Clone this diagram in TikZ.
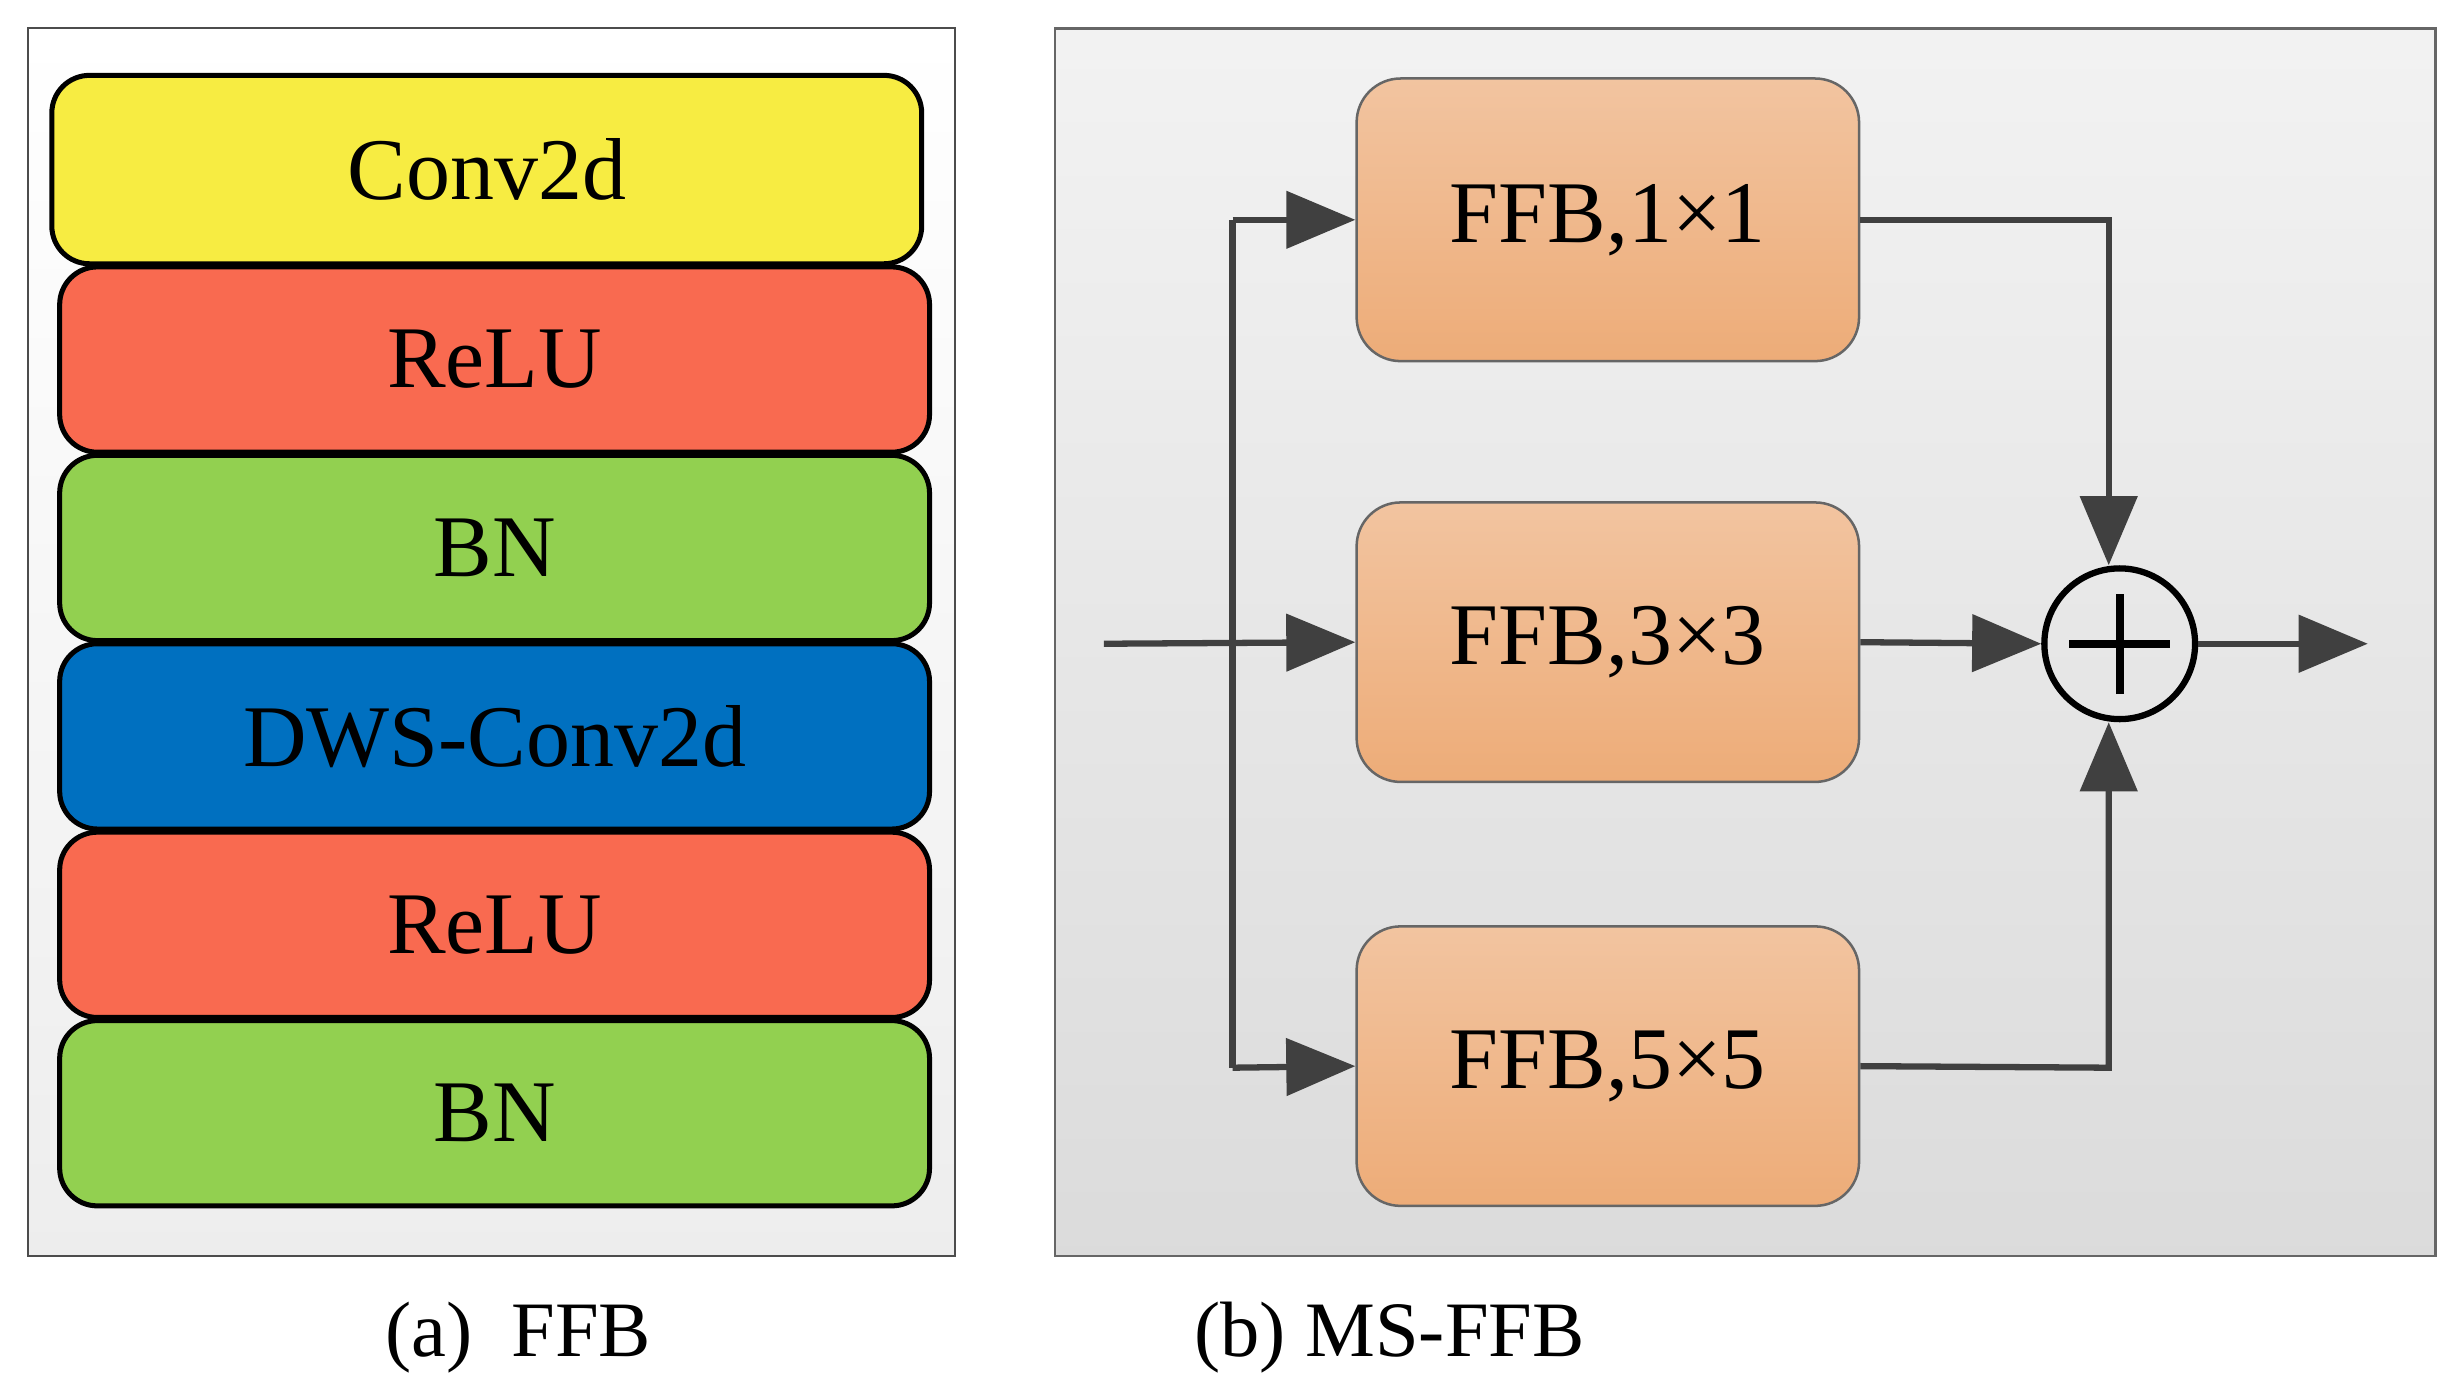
\documentclass[tikz,border=0pt]{standalone}
\usepackage{fontspec}
\setmainfont{Liberation Serif}
\usetikzlibrary{arrows.meta}
\definecolor{cy}{HTML}{F7EC42}
\definecolor{cr}{HTML}{F96A50}
\definecolor{cg}{HTML}{92D050}
\definecolor{cb}{HTML}{0070C0}
\definecolor{ar}{HTML}{404040}
\definecolor{pk1}{HTML}{F2C4A0}
\definecolor{pk2}{HTML}{EDAC78}
\begin{document}
\begin{tikzpicture}[x=0.5pt,y=-0.5pt,
  blk/.style={draw=black,line width=1.6pt,rounded corners=12pt,font=\fontsize{28}{30}\selectfont},
  ffb/.style={draw=ar!80,line width=0.8pt,rounded corners=14pt,top color=pk1,bottom color=pk2,font=\fontsize{28}{30}\selectfont},
  arr/.style={draw=ar,line width=2pt,-{Triangle[length=22pt,width=18pt]}},
  ln/.style={draw=ar,line width=2pt},
  captxt/.style={font=\fontsize{25}{28}\selectfont}]
\useasboundingbox (0,0) rectangle (1568,886);
% left panel
\draw[draw=black!70,line width=0.6pt,top color=white,bottom color=black!7] (18,18) rectangle (608,800);
\node[blk,fill=cy,minimum width=277pt,minimum height=60pt] (c1) at (310,108) {Conv2d};
\node[blk,fill=cr,minimum width=277pt,minimum height=59pt] (r1) at (315,229) {ReLU};
\node[blk,fill=cg,minimum width=277pt,minimum height=59pt] (b1) at (315,349) {BN};
\node[blk,fill=cb,minimum width=277pt,minimum height=59pt] (d1) at (315,469) {DWS-Conv2d};
\node[blk,fill=cr,minimum width=277pt,minimum height=59pt] (r2) at (315,589) {ReLU};
\node[blk,fill=cg,minimum width=277pt,minimum height=59pt] (b2) at (315,709) {BN};
% right panel
\draw[draw=black!60,line width=0.8pt,top color=black!5,bottom color=black!14] (672,18) rectangle (1551,800);
\node[ffb,minimum width=160pt,minimum height=90pt] (f1) at (1024,140) {FFB,1×1};
\node[ffb,minimum width=160pt,minimum height=89pt] (f3) at (1024,409) {FFB,3×3};
\node[ffb,minimum width=160pt,minimum height=89pt] (f5) at (1024,679) {FFB,5×5};
\node[circle,draw=black,line width=2pt,minimum size=48pt,inner sep=0pt] (add) at (1350,410) {};
\draw[line width=2.4pt] ([xshift=-16pt]add.center) -- ([xshift=16pt]add.center);
\draw[line width=2.4pt] ([yshift=-16pt]add.center) -- ([yshift=16pt]add.center);
\coordinate (in) at (703,410);
\coordinate (out) at (1508,410);
\coordinate (t1) at (785,140);
\coordinate (t5) at (785,680);
\coordinate (k1) at (1343,140);
\coordinate (k5) at (1343,680);
\draw[arr] (in) -- (f3.west);
\draw[ln] (t1) -- (t5);
\draw[arr] (t1) -- (f1.west);
\draw[arr] (t5) -- (f5.west);
\draw[arr] (f1.east) -- (k1) -- (add.north -| k1);
\draw[arr] (f5.east) -- (k5) -- (add.south -| k5);
\draw[arr] (f3.east) -- (add.west);
\draw[arr] (add.east) -- (out);
\node[captxt] (ca) at (330,852) {(a)\ \ FFB};
\node[captxt] (cb) at (885,852) {(b) MS-FFB};
\end{tikzpicture}
\end{document}
